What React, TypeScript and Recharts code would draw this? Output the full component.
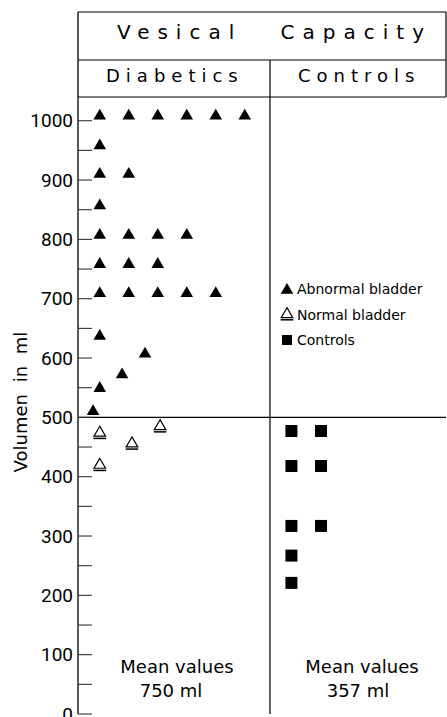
import React from 'react';
import { ScatterChart, Scatter, XAxis, YAxis, ReferenceLine } from 'recharts';

// column slots (x) and volume in ml (y)
const abnormalBladder = [
  { col: 0, ml: 1010 }, { col: 1, ml: 1010 }, { col: 2, ml: 1010 },
  { col: 3, ml: 1010 }, { col: 4, ml: 1010 }, { col: 5, ml: 1010 },
  { col: 0, ml: 960 },
  { col: 0, ml: 912 }, { col: 1, ml: 912 },
  { col: 0, ml: 859 },
  { col: 0, ml: 809 }, { col: 1, ml: 809 }, { col: 2, ml: 809 }, { col: 3, ml: 809 },
  { col: 0, ml: 760 }, { col: 1, ml: 760 }, { col: 2, ml: 760 },
  { col: 0, ml: 711 }, { col: 1, ml: 711 }, { col: 2, ml: 711 }, { col: 3, ml: 711 }, { col: 4, ml: 711 },
  { col: 0, ml: 639 },
  { col: 1.56, ml: 609 },
  { col: 0.77, ml: 574 },
  { col: 0, ml: 551 },
  { col: -0.23, ml: 512 },
];

const normalBladder = [
  { col: 2.08, ml: 487 },
  { col: 0, ml: 476 },
  { col: 1.11, ml: 458 },
  { col: 0, ml: 422 },
];

const controls = [
  { col: 6.61, ml: 477 }, { col: 7.63, ml: 477 },
  { col: 6.61, ml: 418 }, { col: 7.63, ml: 418 },
  { col: 6.61, ml: 317 }, { col: 7.63, ml: 317 },
  { col: 6.61, ml: 267 },
  { col: 6.61, ml: 221 },
];

const yTicks = [0, 50, 100, 150, 200, 250, 300, 350, 400, 450, 500, 550, 600, 650, 700, 750, 800, 850, 900, 950, 1000];
const groupBoundary = 5.87;
const limitLine = 500;
const groups = ['Diabetics', 'Controls'];
const meanValues = ['750 ml', '357 ml'];
const seriesNames = ['Abnormal bladder', 'Normal bladder', 'Controls'];

const FONT = "'DejaVu Sans', sans-serif";

const FilledTriangle = ({ cx, cy }: any) => (
  <polygon points={`${cx},${cy - 6} ${cx - 6.3},${cy + 4.8} ${cx + 6.3},${cy + 4.8}`} fill="#000" />
);

const OpenTriangle = ({ cx, cy }: any) => (
  <g>
    <polygon
      points={`${cx},${cy - 5.3} ${cx - 5.8},${cy + 4.6} ${cx + 5.8},${cy + 4.6}`}
      fill="#fff"
      stroke="#000"
      strokeWidth={1.2}
    />
    <line x1={cx - 6.3} x2={cx + 6.3} y1={cy + 6.8} y2={cy + 6.8} stroke="#000" strokeWidth={1.5} />
  </g>
);

const Square = ({ cx, cy }: any) => <rect x={cx - 6} y={cy - 6} width={12} height={12} fill="#000" />;

const YTick = ({ x, y, payload }: any) => (
  <g>
    <line x1={x + 5} x2={x + 19} y1={y} y2={y} stroke="#333" strokeWidth={1.1} />
    {payload.value % 100 === 0 && (
      <text
        x={x}
        y={y}
        textAnchor="end"
        dominantBaseline="central"
        fontFamily="Roboto, sans-serif"
        fontSize={19}
        fill="#000"
      >
        {payload.value}
      </text>
    )}
  </g>
);

export default function App() {
  return (
    <div style={{ position: 'absolute', left: 0, top: 0, width: 447, height: 717, background: '#fff' }}>
      <ScatterChart width={447} height={717} margin={{ top: 97, right: 1, bottom: 3, left: 18 }}>
        <XAxis
          type="number"
          dataKey="col"
          domain={[-0.75, 11.94]}
          tick={false}
          tickLine={false}
          height={0}
          axisLine={{ stroke: '#000', strokeWidth: 1.3 }}
        />
        <YAxis
          type="number"
          dataKey="ml"
          domain={[0, 1040]}
          ticks={yTicks}
          interval={0}
          width={60}
          tickSize={0}
          tickMargin={5}
          tickLine={false}
          tick={<YTick />}
          axisLine={{ stroke: '#000', strokeWidth: 1.3 }}
        />
        <ReferenceLine y={limitLine} stroke="#000" strokeWidth={1.2} />
        <ReferenceLine x={groupBoundary} stroke="#000" strokeWidth={1.2} />
        <Scatter name={seriesNames[0]} data={abnormalBladder} shape={FilledTriangle} isAnimationActive={false} />
        <Scatter name={seriesNames[1]} data={normalBladder} shape={OpenTriangle} isAnimationActive={false} />
        <Scatter name={seriesNames[2]} data={controls} shape={Square} isAnimationActive={false} />
      </ScatterChart>

      <svg
        width={447}
        height={717}
        style={{ position: 'absolute', left: 0, top: 0, pointerEvents: 'none' }}
        fontFamily={FONT}
      >
        {/* header box */}
        <line x1={78} x2={446} y1={12} y2={12} stroke="#000" strokeWidth={1.2} />
        <line x1={78} x2={446} y1={60} y2={60} stroke="#000" strokeWidth={1.2} />
        <line x1={78} x2={446} y1={97} y2={97} stroke="#000" strokeWidth={1.2} />
        <line x1={78} x2={78} y1={12} y2={97} stroke="#000" strokeWidth={1.3} />
        <line x1={446} x2={446} y1={12} y2={97} stroke="#000" strokeWidth={1.2} />
        <line x1={270} x2={270} y1={60} y2={97} stroke="#000" strokeWidth={1.2} />

        <text x={117} y={39} fontSize={20} letterSpacing={8} wordSpacing={24} fill="#000">
          Vesical Capacity
        </text>
        <text x={106} y={82} fontSize={18} letterSpacing={6} fill="#000">{groups[0]}</text>
        <text x={298} y={82} fontSize={18} letterSpacing={6} fill="#000">{groups[1]}</text>

        {/* axis title */}
        <text
          transform="translate(27,402) rotate(-90)"
          textAnchor="middle"
          fontSize={18}
          wordSpacing={6}
          fill="#000"
        >
          Volumen in ml
        </text>

        {/* legend */}
        <g fontSize={14} fill="#000">
          <FilledTriangle cx={287} cy={289} />
          <text x={297} y={294}>{seriesNames[0]}</text>
          <OpenTriangle cx={287} cy={313} />
          <text x={297} y={319.5}>{seriesNames[1]}</text>
          <rect x={282} y={335} width={10} height={10} fill="#000" />
          <text x={297} y={344.5}>{seriesNames[2]}</text>
        </g>

        {/* mean values */}
        <g fontSize={18} fill="#000" textAnchor="middle">
          <text x={177} y={673}>Mean values</text>
          <text x={171} y={697}>{meanValues[0]}</text>
          <text x={362} y={673}>Mean values</text>
          <text x={358} y={697}>{meanValues[1]}</text>
        </g>
      </svg>
    </div>
  );
}
